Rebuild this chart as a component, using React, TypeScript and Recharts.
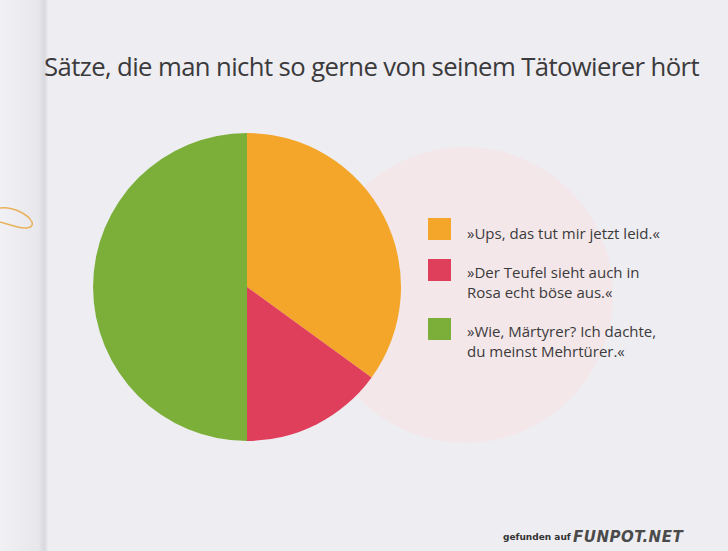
import React from 'react';
import { PieChart, Pie, Cell } from 'recharts';

// slice values in percent, read clockwise from 12 o'clock
const labels = [
  '»Ups, das tut mir jetzt leid.«',
  '»Der Teufel sieht auch in Rosa echt böse aus.«',
  '»Wie, Märtyrer? Ich dachte, du meinst Mehrtürer.«',
];
const values = [35, 15, 50];
const colors = ['#F4A62A', '#E03F5C', '#7BAF3A'];

// legend lines, broken the way the book does
const legendLines = [
  ['»Ups, das tut mir jetzt leid.«'],
  ['»Der Teufel sieht auch in', 'Rosa echt böse aus.«'],
  ['»Wie, Märtyrer? Ich dachte,', 'du meinst Mehrtürer.«'],
];

const title = 'Sätze, die man nicht so gerne von seinem Tätowierer hört';

const font = '"Open Sans", "Noto Sans", sans-serif';

const App = () => {
  const data = labels.map((name, i) => ({ name, value: values[i] }));
  const boxTop = [218, 259, 318];
  const textTop = [223, 262, 321];

  return (
    <div
      style={{
        position: 'absolute',
        left: 0,
        top: 0,
        width: 728,
        height: 551,
        overflow: 'hidden',
        background: '#EEEDF1',
        fontFamily: font,
      }}
    >
      {/* page fold */}
      <div
        style={{
          position: 'absolute',
          left: 0,
          top: 0,
          width: 48,
          height: 551,
          background: 'linear-gradient(to right, #F1F0F4 0%, #E8E7EC 80%, #D9D8DE 92%, #ECEBEF 100%)',
        }}
      />
      <svg width={48} height={551} style={{ position: 'absolute', left: 0, top: 0 }}>
        <path
          d="M0 208 C 12 206, 28 214, 32 222 C 34 228, 26 230, 14 226 L 0 222"
          fill="none"
          stroke="#E8B35A"
          strokeWidth={1.5}
        />
      </svg>

      {/* pale pink disc behind the legend */}
      <div
        style={{
          position: 'absolute',
          left: 317,
          top: 147,
          width: 296,
          height: 296,
          borderRadius: '50%',
          background: '#F3E7E9',
        }}
      />

      <div
        style={{
          position: 'absolute',
          left: 44,
          top: 49,
          fontSize: 25.7,
          color: '#3B3A3C',
          whiteSpace: 'nowrap',
          letterSpacing: -0.6,
        }}
      >
        {title}
      </div>

      <div style={{ position: 'absolute', left: 0, top: 0 }}>
        <PieChart width={728} height={551} margin={{ top: 0, right: 0, bottom: 0, left: 0 }}>
          <Pie
            data={data}
            dataKey="value"
            nameKey="name"
            cx={247}
            cy={287}
            outerRadius={154}
            startAngle={90}
            endAngle={-270}
            stroke="none"
            isAnimationActive={false}
          >
            {data.map((entry, index) => (
              <Cell key={`cell-${index}`} fill={colors[index]} />
            ))}
          </Pie>
        </PieChart>
      </div>

      {legendLines.map((lines, i) => (
        <React.Fragment key={i}>
          <div
            style={{
              position: 'absolute',
              left: 428,
              top: boxTop[i],
              width: 23,
              height: 22,
              background: colors[i],
            }}
          />
          <div
            style={{
              position: 'absolute',
              left: 467,
              top: textTop[i],
              fontSize: 15,
              lineHeight: '20px',
              color: '#3B3A3C',
              whiteSpace: 'nowrap',
            }}
          >
            {lines.map((l, j) => (
              <div key={j}>{l}</div>
            ))}
          </div>
        </React.Fragment>
      ))}

      <div
        style={{
          position: 'absolute',
          left: 503,
          top: 531,
          fontSize: 9,
          lineHeight: '12px',
          color: '#333',
          fontFamily: '"DejaVu Sans", sans-serif',
          fontWeight: 'bold',
          whiteSpace: 'nowrap',
        }}
      >
        gefunden auf
      </div>
      <div
        style={{
          position: 'absolute',
          left: 573,
          top: 528,
          fontSize: 15,
          lineHeight: '18px',
          fontStyle: 'italic',
          fontWeight: 900,
          color: '#4A4A4A',
          fontFamily: '"DejaVu Sans", sans-serif',
          letterSpacing: 0.5,
          whiteSpace: 'nowrap',
        }}
      >
        FUNPOT.NET
      </div>
    </div>
  );
};

export default App;
